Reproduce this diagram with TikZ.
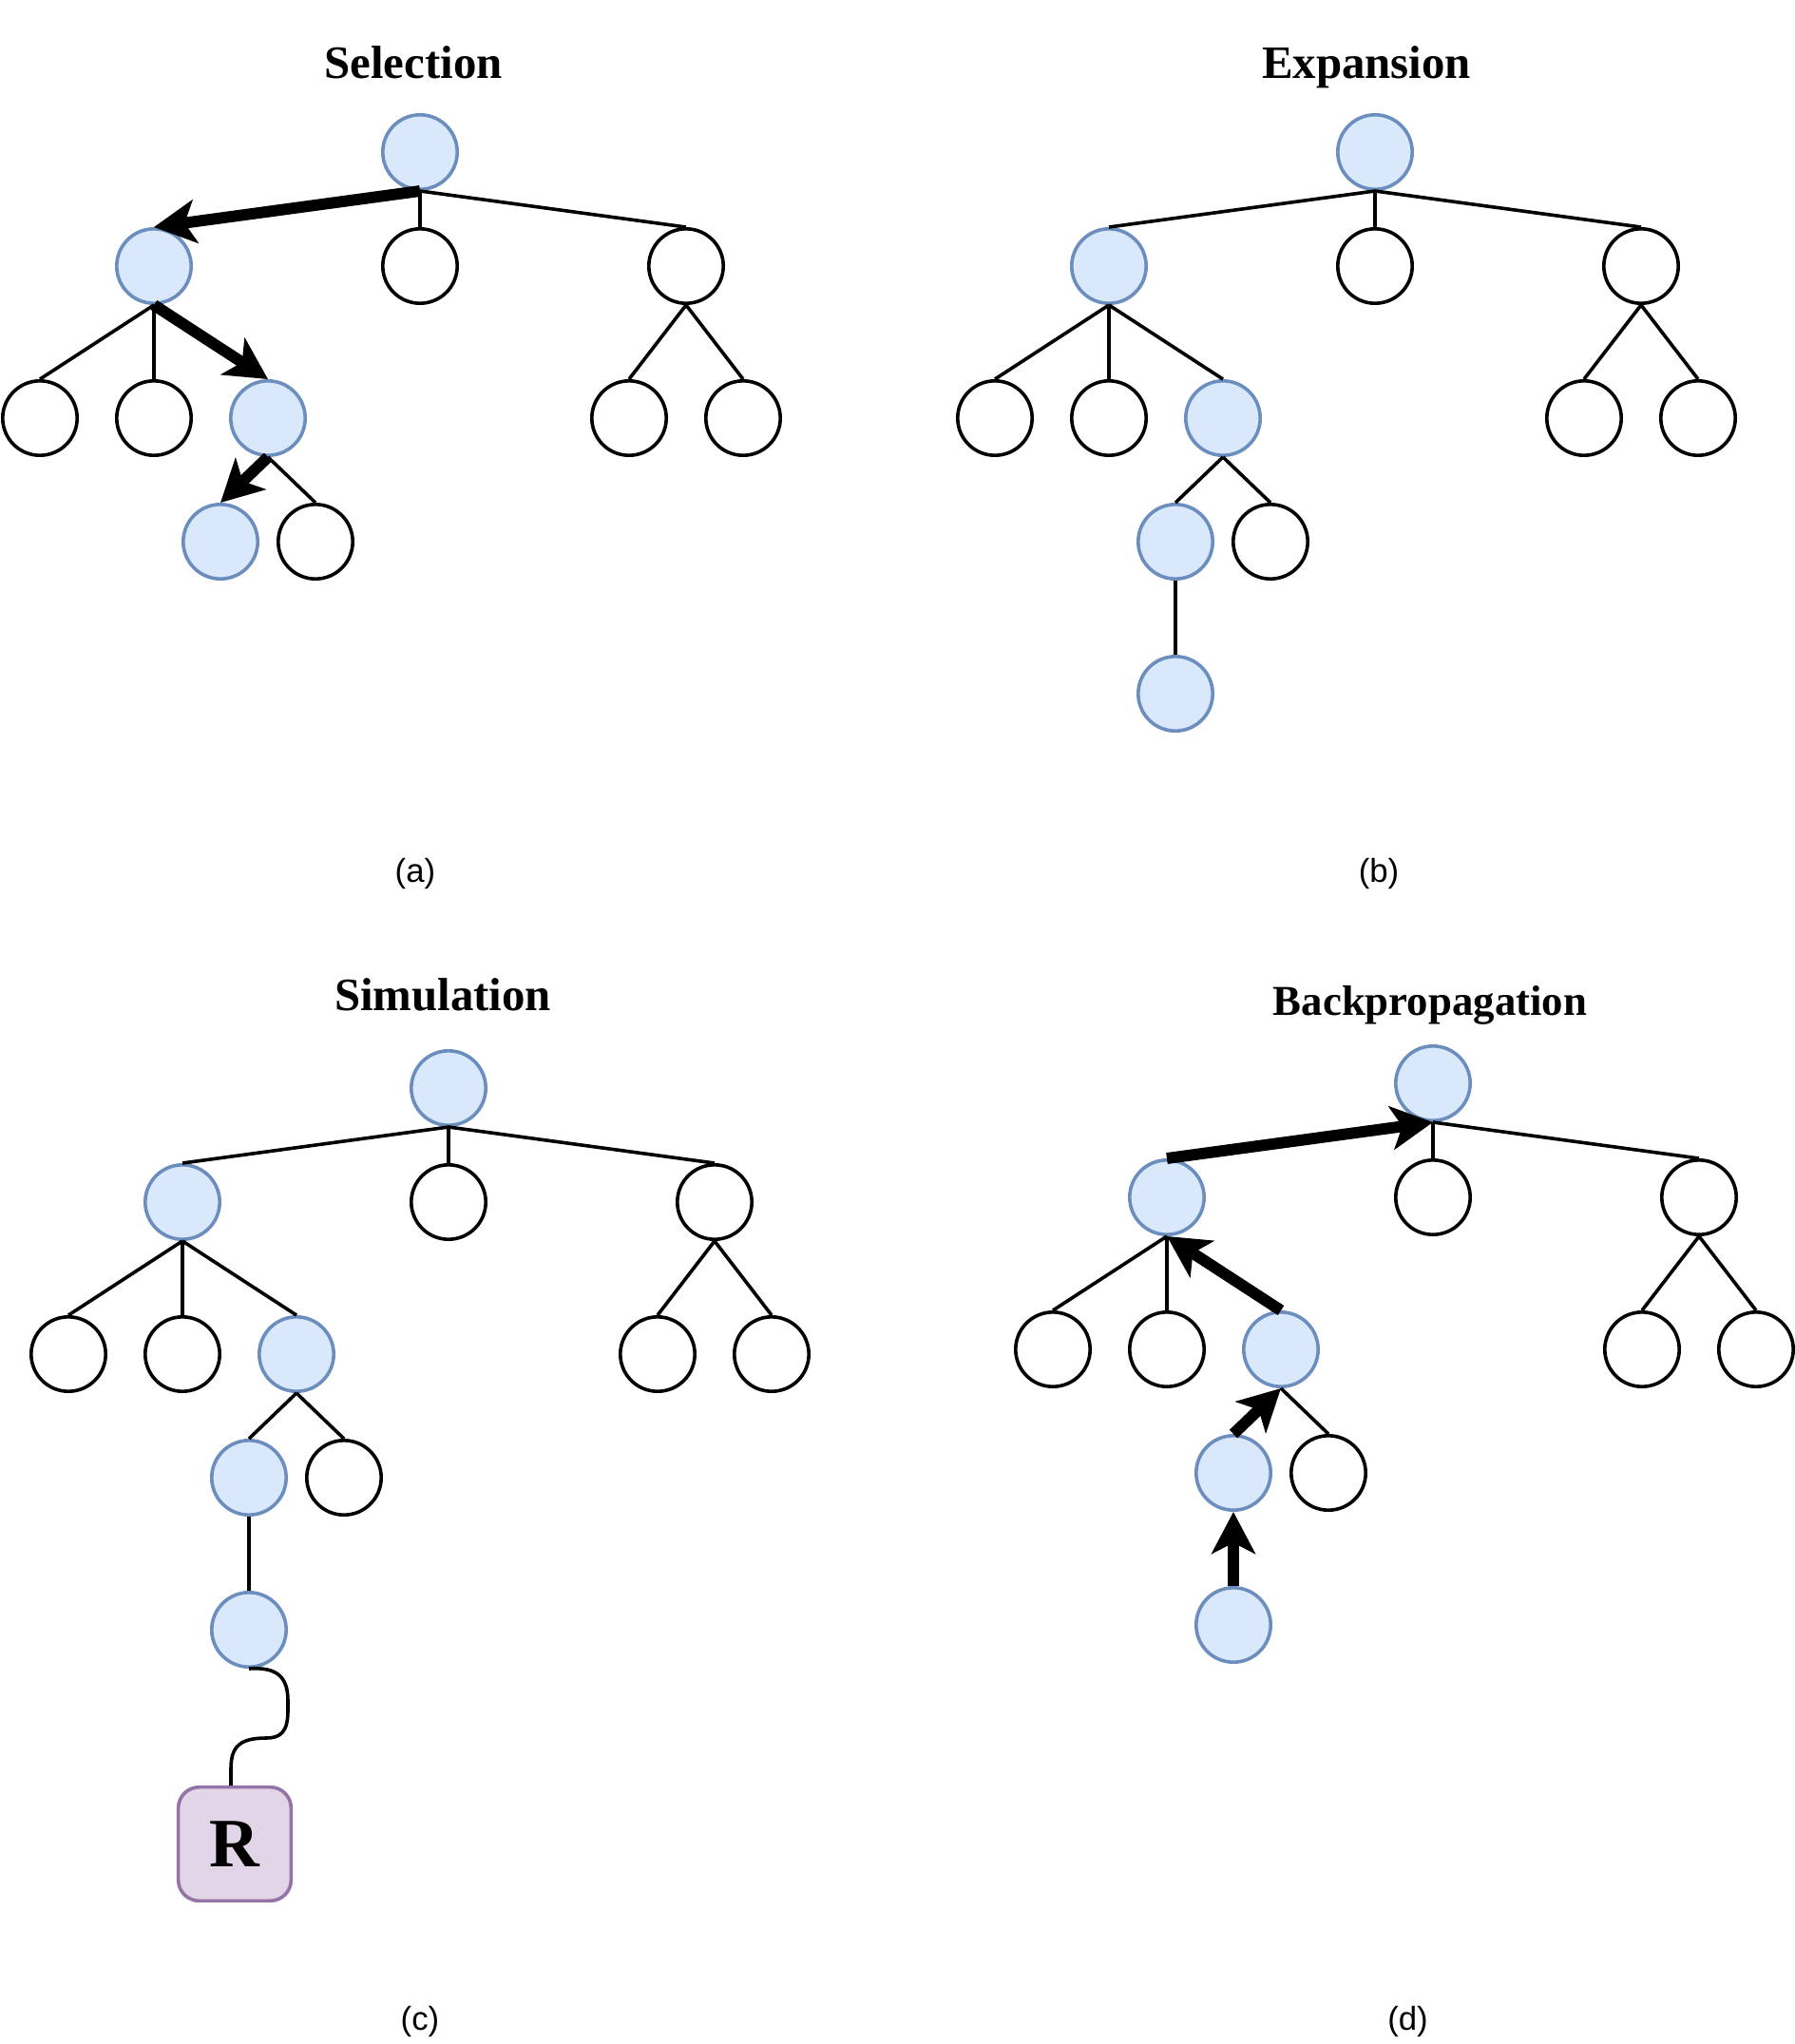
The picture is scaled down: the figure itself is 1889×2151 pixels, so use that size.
\documentclass[tikz,border=0pt]{standalone}
\usepackage{fontspec}
\setmainfont{Liberation Serif}
\newfontfamily\capfont{Liberation Sans}
\usetikzlibrary{arrows.meta,calc}
\definecolor{nodeblue}{HTML}{DAE8FC}
\definecolor{nodeblueline}{HTML}{6C8EBF}
\definecolor{rewardfill}{HTML}{E1D5E7}
\definecolor{rewardline}{HTML}{9673A6}

\begin{document}
\begin{tikzpicture}[x=0.02cm,y=-0.02cm,
  treenode/.style={circle, inner sep=0pt, minimum size=1.568cm, line width=2.05pt},
  visited/.style={treenode, draw=nodeblueline, fill=nodeblue},
  unvisited/.style={treenode, draw=black, fill=white},
  branch/.style={line width=2.05pt},
  pass/.style={line width=6.8pt, -{Stealth[length=25pt,width=26pt,inset=6.5pt]}},
  phase/.style={font=\fontsize{27.8}{33}\selectfont\bfseries, inner sep=0pt, anchor=base},
  caption/.style={font=\capfont\fontsize{19.8}{24}\selectfont, inner sep=0pt, anchor=base},
  reward/.style={rectangle, rounded corners=12.5pt, draw=rewardline, fill=rewardfill,
    line width=2.05pt, minimum width=2.374cm, minimum height=2.394cm, inner sep=0pt,
    font=\fontsize{41.5}{48}\selectfont\bfseries},
]
\useasboundingbox (0,0) rectangle (1889,2151);

% ---------- titles and captions ----------
\node[phase] (tA) at (435,82) {Selection};
\node[phase] (tB) at (1438,82) {Expansion};
\node[phase] (tC) at (466,1063) {Simulation};
\node[phase, font=\fontsize{25.5}{30}\selectfont\bfseries] (tD) at (1505,1068) {Backpropagation};
\node[caption] (cA) at (437,928.6) {(a)};
\node[caption] (cB) at (1451,928.6) {(b)};
\node[caption] (cC) at (442,2136) {(c)};
\node[caption] (cD) at (1481.5,2136) {(d)};

% ---------- (a) selection ----------
\begin{scope}
\node[visited]   (a0)   at (442,160) {};
\node[visited]   (a1)   at (162,280) {};
\node[unvisited] (a2)   at (442,280) {};
\node[unvisited] (a3)   at (722,280) {};
\node[unvisited] (a11)  at (42,440) {};
\node[unvisited] (a12)  at (162,440) {};
\node[visited]   (a13)  at (282,440) {};
\node[unvisited] (a31)  at (662,440) {};
\node[unvisited] (a32)  at (782,440) {};
\node[visited]   (a131) at (232,570) {};
\node[unvisited] (a132) at (332,570) {};
\draw[branch] (a0.south) -- (a2.north);
\draw[branch] (a0.south) -- (a3.north);
\draw[branch] (a1.south) -- (a11.north);
\draw[branch] (a1.south) -- (a12.north);
\draw[branch] (a13.south) -- (a132.north);
\draw[branch] (a3.south) -- (a31.north);
\draw[branch] (a3.south) -- (a32.north);
\draw[pass] (a0.south) -- (a1.north);
\draw[pass] (a1.south) -- (a13.north);
\draw[pass] (a13.south) -- (a131.north);
\end{scope}

% ---------- (b) expansion ----------
\begin{scope}[shift={(1005,0)}]
\node[visited]   (b0)    at (442,160) {};
\node[visited]   (b1)    at (162,280) {};
\node[unvisited] (b2)    at (442,280) {};
\node[unvisited] (b3)    at (722,280) {};
\node[unvisited] (b11)   at (42,440) {};
\node[unvisited] (b12)   at (162,440) {};
\node[visited]   (b13)   at (282,440) {};
\node[unvisited] (b31)   at (662,440) {};
\node[unvisited] (b32)   at (782,440) {};
\node[visited]   (b131)  at (232,570) {};
\node[unvisited] (b132)  at (332,570) {};
\node[visited]   (b1311) at (232,730) {};
\draw[branch] (b0.south) -- (b1.north);
\draw[branch] (b0.south) -- (b2.north);
\draw[branch] (b0.south) -- (b3.north);
\draw[branch] (b1.south) -- (b11.north);
\draw[branch] (b1.south) -- (b12.north);
\draw[branch] (b1.south) -- (b13.north);
\draw[branch] (b13.south) -- (b131.north);
\draw[branch] (b13.south) -- (b132.north);
\draw[branch] (b131.south) -- (b1311.north);
\draw[branch] (b3.south) -- (b31.north);
\draw[branch] (b3.south) -- (b32.north);
\end{scope}

% ---------- (c) simulation ----------
\begin{scope}[shift={(30,985)}]
\node[visited]   (c0)    at (442,160) {};
\node[visited]   (c1)    at (162,280) {};
\node[unvisited] (c2)    at (442,280) {};
\node[unvisited] (c3)    at (722,280) {};
\node[unvisited] (c11)   at (42,440) {};
\node[unvisited] (c12)   at (162,440) {};
\node[visited]   (c13)   at (282,440) {};
\node[unvisited] (c31)   at (662,440) {};
\node[unvisited] (c32)   at (782,440) {};
\node[visited]   (c131)  at (232,570) {};
\node[unvisited] (c132)  at (332,570) {};
\node[visited]   (c1311) at (232,730) {};
\node[reward]    (R)     at (217,955.5) {R};
\coordinate (rin) at ($(R.north)+(-4,0)$);
\draw[branch] (c0.south) -- (c1.north);
\draw[branch] (c0.south) -- (c2.north);
\draw[branch] (c0.south) -- (c3.north);
\draw[branch] (c1.south) -- (c11.north);
\draw[branch] (c1.south) -- (c12.north);
\draw[branch] (c1.south) -- (c13.north);
\draw[branch] (c13.south) -- (c131.north);
\draw[branch] (c13.south) -- (c132.north);
\draw[branch] (c131.south) -- (c1311.north);
\draw[branch] (c3.south) -- (c31.north);
\draw[branch] (c3.south) -- (c32.north);
% rollout to the reward
\draw[branch] (c1311.south) .. controls (262,769) and (273,780) .. (273,805)
  -- (273,815) .. controls (273,838) and (265,844) .. (250,844)
  .. controls (220,844) and (213,855) .. (213,877) -- (rin);
\end{scope}

% ---------- (d) backpropagation ----------
\begin{scope}[shift={(1066,980)}]
\node[visited]   (d0)    at (442,160) {};
\node[visited]   (d1)    at (162,280) {};
\node[unvisited] (d2)    at (442,280) {};
\node[unvisited] (d3)    at (722,280) {};
\node[unvisited] (d11)   at (42,440) {};
\node[unvisited] (d12)   at (162,440) {};
\node[visited]   (d13)   at (282,440) {};
\node[unvisited] (d31)   at (662,440) {};
\node[unvisited] (d32)   at (782,440) {};
\node[visited]   (d131)  at (232,570) {};
\node[unvisited] (d132)  at (332,570) {};
\node[visited]   (d1311) at (232,730) {};
\draw[branch] (d0.south) -- (d2.north);
\draw[branch] (d0.south) -- (d3.north);
\draw[branch] (d1.south) -- (d11.north);
\draw[branch] (d1.south) -- (d12.north);
\draw[branch] (d13.south) -- (d132.north);
\draw[branch] (d3.south) -- (d31.north);
\draw[branch] (d3.south) -- (d32.north);
\draw[pass] (d1.north) -- (d0.south);
\draw[pass] (d13.north) -- (d1.south);
\draw[pass] (d131.north) -- (d13.south);
\draw[pass] (d1311.north) -- (d131.south);
\end{scope}
\end{tikzpicture}
\end{document}
